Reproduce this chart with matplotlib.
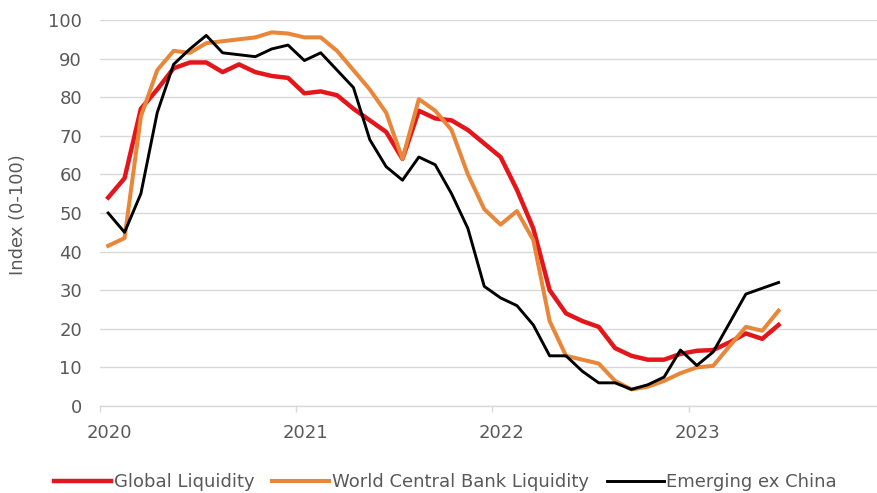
import matplotlib.pyplot as plt
import matplotlib.transforms as mtransforms
import numpy as np

# Monthly index readings, Jan 2020 - Jun 2023
months = np.arange(42)
global_liquidity = [54, 59, 77, 82, 87.5, 89, 89, 86.5, 88.5, 86.5, 85.5, 85,
                    81, 81.5, 80.5, 77, 74, 71, 64, 76.5, 74.5, 74, 71.5, 68,
                    64.5, 56, 46, 30, 24, 22, 20.5, 15, 13, 12, 12, 13.5,
                    14.3, 14.5, 16.5, 18.8, 17.4, 21]
world_cb_liquidity = [41.5, 43.5, 75, 87, 92, 91.5, 94, 94.5, 95, 95.5, 96.8, 96.5,
                      95.5, 95.5, 92, 87, 82, 76, 64, 79.5, 76.5, 71.5, 60, 51,
                      47, 50.5, 43, 22, 13, 12, 11, 6.5, 4.3, 5, 6.5, 8.5,
                      10, 10.4, 15.5, 20.5, 19.5, 24.7]
emerging_ex_china = [50, 45, 55, 76, 88.5, 92.5, 96, 91.5, 91, 90.5, 92.5, 93.5,
                     89.5, 91.5, 87, 82.5, 69, 62, 58.5, 64.5, 62.5, 55, 46, 31,
                     28, 26, 21, 13, 13, 9, 6, 6, 4.3, 5.5, 7.5, 14.5,
                     10.5, 14, 21.5, 29, 30.5, 32]
year_ticks = [2020, 2021, 2022, 2023]
year_labels = ["2020", "2021", "2022", "2023"]

# Mid-month positions on a fractional year axis
x = 2020 + (months + 0.5) / 12

plt.rcParams["font.family"] = ["DejaVu Sans"]
grey = "#595959"
fsize = 13

fig = plt.figure(figsize=(8.77, 4.93), dpi=100)
ax = fig.add_axes([100 / 877, 1 - 406 / 493, 777 / 877, 386 / 493])

ax.plot(x, global_liquidity, color="#E3161B", linewidth=3.2, label="Global Liquidity")
ax.plot(x, world_cb_liquidity, color="#E8873A", linewidth=2.9,
        label="World Central Bank Liquidity")
ax.plot(x, emerging_ex_china, color="black", linewidth=2.1, label="Emerging ex China")

ax.set_xlim(2020, 2023.96)
ax.set_ylim(0, 100)
ax.set_yticks(range(0, 101, 10))
ax.set_xticks(year_ticks)
ax.set_xticklabels(year_labels)

# Gridlines and axis styling
ax.grid(axis="y", color="#d9d9d9", linewidth=1.0)
ax.set_axisbelow(True)
for s in ["top", "left", "right"]:
    ax.spines[s].set_visible(False)
ax.spines["bottom"].set_color("#d9d9d9")
ax.spines["bottom"].set_linewidth(1.0)

ax.tick_params(axis="y", length=0, pad=13, labelsize=fsize, labelcolor=grey)
ax.tick_params(axis="x", length=4, width=1, color="#d9d9d9", pad=9,
               labelsize=fsize, labelcolor=grey)

# Year labels sit about half a month to the right of the tick
offset = mtransforms.ScaledTranslation(9 / 100, 0, fig.dpi_scale_trans)
for label in ax.get_xticklabels():
    label.set_transform(label.get_transform() + offset)

ax.set_ylabel("Index (0-100)", fontsize=fsize, color=grey)
ax.yaxis.set_label_coords(-0.094, 0.495)

fig.legend(loc="center", bbox_to_anchor=(0.508, 1 - 482 / 493), ncol=3, frameon=False,
           fontsize=fsize, labelcolor=grey, handlelength=3.15, handletextpad=0.15,
           columnspacing=1.0, borderaxespad=0, borderpad=0)

plt.savefig("out.png", dpi=100)
